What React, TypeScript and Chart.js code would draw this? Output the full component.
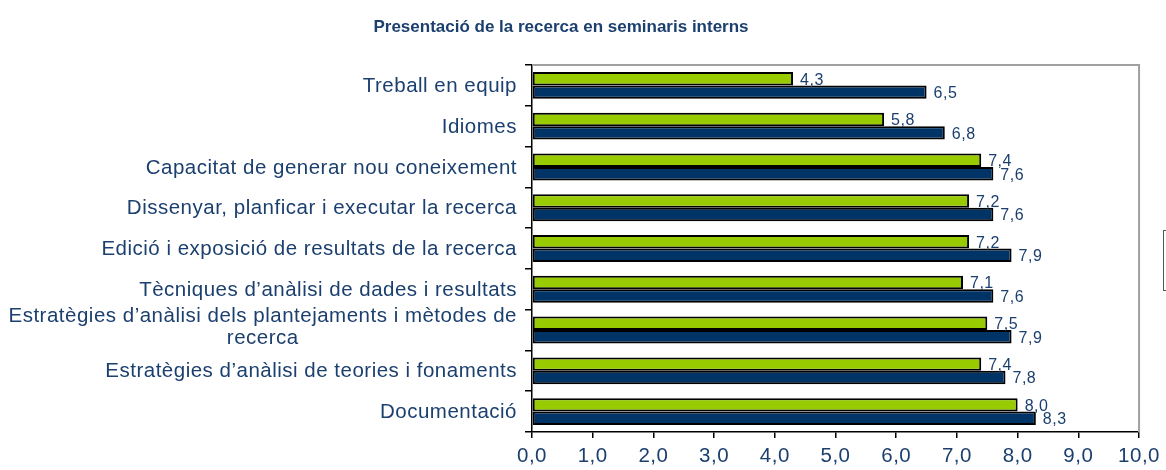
import React, { useEffect, useRef } from "react";
import { Chart, registerables } from "chart.js";

Chart.register(...registerables);

const titleText = "Presentació de la recerca en seminaris interns";
const categories: (string | string[])[] = [
  "Treball en equip",
  "Idiomes",
  "Capacitat de generar nou coneixement",
  "Dissenyar, planficar i executar la recerca",
  "Edició i exposició de resultats de la recerca",
  "Tècniques d’anàlisi de dades i resultats",
  ["Estratègies d’anàlisi dels plantejaments i mètodes de", "recerca"],
  "Estratègies d’anàlisi de teories i fonaments",
  "Documentació",
];
const seriesGreen = [4.3, 5.8, 7.4, 7.2, 7.2, 7.1, 7.5, 7.4, 8.0];
const seriesNavy = [6.5, 6.8, 7.6, 7.6, 7.9, 7.6, 7.9, 7.8, 8.3];
const xMin = 0;
const xMax = 10;
const xStep = 1;

const FONT = "'Liberation Sans', Arial, sans-serif";
const TEXT = "#1B3F6E";
const SPACING = "0.5px";

const fmt = (v: number) => v.toFixed(1).replace(".", ",");

const spacingPlugin = {
  id: "spacing",
  beforeUpdate(chart: any) {
    chart.ctx.letterSpacing = SPACING;
  },
  beforeLayout(chart: any) {
    chart.ctx.letterSpacing = SPACING;
  },
  beforeDraw(chart: any) {
    chart.ctx.letterSpacing = SPACING;
  },
};

const categoryLabelPlugin = {
  id: "categoryLabels",
  afterDraw(chart: any) {
    const { ctx } = chart;
    const scale = chart.scales.y;
    const rightX = scale.right - 7 - 8;
    ctx.save();
    ctx.letterSpacing = SPACING;
    ctx.font = `20.5px ${FONT}`;
    ctx.fillStyle = TEXT;
    ctx.textBaseline = "middle";
    chart.data.labels.forEach((lab: any, i: number) => {
      const cy = scale.getPixelForTick(i);
      if (Array.isArray(lab)) {
        const widths = lab.map((l: string) => ctx.measureText(l).width);
        const maxW = Math.max(...widths);
        const centerX = rightX - maxW / 2;
        const lh = 22;
        const startY = cy - 3 - ((lab.length - 1) * lh) / 2;
        ctx.textAlign = "center";
        lab.forEach((l: string, k: number) => {
          ctx.fillText(l, centerX, startY + k * lh);
        });
      } else {
        ctx.textAlign = "right";
        ctx.fillText(lab, rightX, cy + 1);
      }
    });
    ctx.restore();
  },
};

const decorPlugin = {
  id: "decor",
  afterDraw(chart: any) {
    const { ctx, chartArea } = chart;
    ctx.save();
    ctx.strokeStyle = "#A0A0A0";
    ctx.lineWidth = 2;
    ctx.beginPath();
    ctx.moveTo(chartArea.left, chartArea.top);
    ctx.lineTo(chartArea.right, chartArea.top);
    ctx.lineTo(chartArea.right, chartArea.bottom);
    ctx.stroke();
    ctx.strokeStyle = "#555555";
    ctx.lineWidth = 1;
    ctx.strokeRect(1163.5, 230.5, 30, 60);
    ctx.letterSpacing = "0px";
    ctx.fillStyle = TEXT;
    ctx.font = `bold 17px ${FONT}`;
    ctx.textAlign = "center";
    ctx.textBaseline = "alphabetic";
    ctx.fillText(titleText, 561, 31.5);
    ctx.restore();
  },
};

const labelPlugin = {
  id: "valueLabels",
  afterDatasetsDraw(chart: any) {
    const { ctx } = chart;
    ctx.save();
    ctx.letterSpacing = SPACING;
    ctx.font = `16px ${FONT}`;
    ctx.fillStyle = TEXT;
    ctx.textAlign = "left";
    ctx.textBaseline = "middle";
    chart.data.datasets.forEach((ds: any, i: number) => {
      const meta = chart.getDatasetMeta(i);
      meta.data.forEach((el: any, j: number) => {
        ctx.fillText(fmt(ds.data[j]), el.x + 7, el.y + 1.5);
      });
    });
    ctx.restore();
  },
};

export default function App() {
  const ref = useRef<HTMLCanvasElement>(null);
  useEffect(() => {
    document.body.style.margin = "0";
    const chart = new Chart(ref.current as HTMLCanvasElement, {
      type: "bar",
      data: {
        labels: categories,
        datasets: [
          {
            label: "A",
            data: seriesGreen,
            backgroundColor: "#99CC00",
            borderColor: "#000000",
            borderWidth: 2,
            borderSkipped: false,
            categoryPercentage: 0.66,
            barPercentage: 1,
          },
          {
            label: "B",
            data: seriesNavy,
            backgroundColor: "#003366",
            borderColor: "#000000",
            borderWidth: 2,
            borderSkipped: false,
            categoryPercentage: 0.66,
            barPercentage: 1,
          },
        ],
      },
      options: {
        indexAxis: "y",
        responsive: false,
        animation: false,
        layout: { padding: { top: 65, right: 25, left: 0, bottom: 0 } },
        plugins: {
          legend: { display: false },
          title: { display: false },
          tooltip: { enabled: false },
        },
        scales: {
          x: {
            min: xMin,
            max: xMax,
            afterFit: (s: any) => {
              s.height = 38;
            },
            border: { display: true, color: "#000000", width: 1.5 },
            grid: {
              drawOnChartArea: false,
              drawTicks: true,
              tickLength: 6,
              color: "#000000",
              lineWidth: 1.5,
            },
            ticks: {
              stepSize: xStep,
              padding: 6,
              color: TEXT,
              font: { family: FONT, size: 20.5 },
              callback: (v: any) => fmt(Number(v)),
            },
          },
          y: {
            afterFit: (s: any) => {
              s.width = 532;
            },
            border: { display: true, color: "#000000", width: 1.5 },
            grid: {
              offset: true,
              drawOnChartArea: false,
              drawTicks: true,
              tickLength: 7,
              color: "#000000",
              lineWidth: 1.5,
            },
            ticks: {
              display: false,
              autoSkip: false,
            },
          },
        },
      },
      plugins: [spacingPlugin, labelPlugin, categoryLabelPlugin, decorPlugin],
    } as any);
    return () => chart.destroy();
  }, []);
  return (
    <div style={{ width: 1166, height: 470 }}>
      <canvas ref={ref} width={1166} height={470} />
    </div>
  );
}
